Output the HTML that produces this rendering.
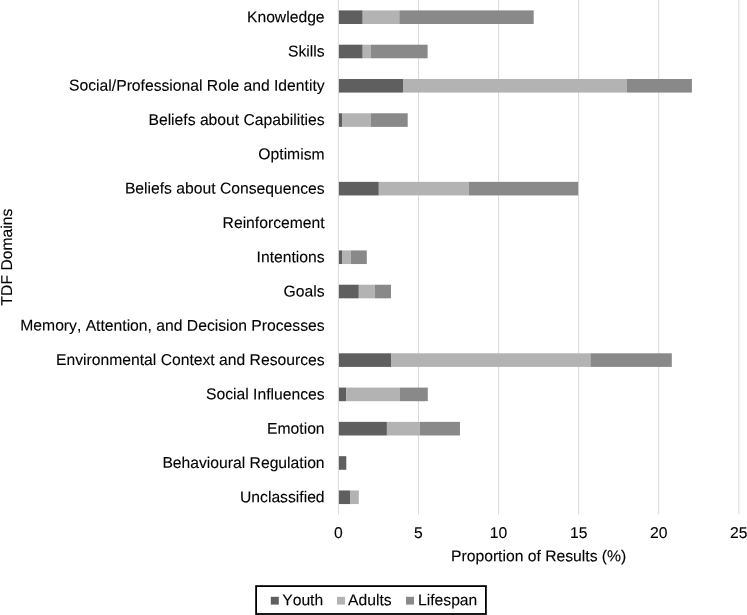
<!DOCTYPE html>
<html><head><meta charset="utf-8"><style>
html,body{margin:0;padding:0;background:#fff;width:747px;height:615px;overflow:hidden}
svg{display:block;will-change:transform}
text{font-family:"Liberation Sans",sans-serif;font-size:15.7px;fill:#000;stroke:#000;stroke-width:0.12px;text-rendering:geometricPrecision;font-kerning:none}
</style></head><body>
<svg width="747" height="615" viewBox="0 0 747 615">
<rect x="417.98" y="0" width="1" height="514.20" fill="#d9d9d9"/>
<rect x="498.06" y="0" width="1" height="514.20" fill="#d9d9d9"/>
<rect x="578.14" y="0" width="1" height="514.20" fill="#d9d9d9"/>
<rect x="658.22" y="0" width="1" height="514.20" fill="#d9d9d9"/>
<rect x="738.30" y="0" width="1" height="514.20" fill="#d9d9d9"/>
<rect x="338.40" y="10.40" width="24.30" height="13.6" fill="#5f5f5f"/>
<rect x="362.70" y="10.40" width="36.60" height="13.6" fill="#b3b3b3"/>
<rect x="399.30" y="10.40" width="134.40" height="13.6" fill="#898989"/>
<rect x="338.40" y="44.69" width="24.30" height="13.6" fill="#5f5f5f"/>
<rect x="362.70" y="44.69" width="8.20" height="13.6" fill="#b3b3b3"/>
<rect x="370.90" y="44.69" width="56.70" height="13.6" fill="#898989"/>
<rect x="338.40" y="78.98" width="64.60" height="13.6" fill="#5f5f5f"/>
<rect x="403.00" y="78.98" width="224.00" height="13.6" fill="#b3b3b3"/>
<rect x="627.00" y="78.98" width="64.90" height="13.6" fill="#898989"/>
<rect x="338.40" y="113.27" width="3.60" height="13.6" fill="#5f5f5f"/>
<rect x="342.00" y="113.27" width="28.90" height="13.6" fill="#b3b3b3"/>
<rect x="370.90" y="113.27" width="36.80" height="13.6" fill="#898989"/>
<rect x="338.40" y="181.85" width="40.40" height="13.6" fill="#5f5f5f"/>
<rect x="378.80" y="181.85" width="89.90" height="13.6" fill="#b3b3b3"/>
<rect x="468.70" y="181.85" width="109.50" height="13.6" fill="#898989"/>
<rect x="338.40" y="250.43" width="3.60" height="13.6" fill="#5f5f5f"/>
<rect x="342.00" y="250.43" width="8.80" height="13.6" fill="#b3b3b3"/>
<rect x="350.80" y="250.43" width="16.00" height="13.6" fill="#898989"/>
<rect x="338.40" y="284.72" width="20.40" height="13.6" fill="#5f5f5f"/>
<rect x="358.80" y="284.72" width="16.10" height="13.6" fill="#b3b3b3"/>
<rect x="374.90" y="284.72" width="16.10" height="13.6" fill="#898989"/>
<rect x="338.40" y="353.30" width="52.60" height="13.6" fill="#5f5f5f"/>
<rect x="391.00" y="353.30" width="199.40" height="13.6" fill="#b3b3b3"/>
<rect x="590.40" y="353.30" width="81.40" height="13.6" fill="#898989"/>
<rect x="338.40" y="387.59" width="7.70" height="13.6" fill="#5f5f5f"/>
<rect x="346.10" y="387.59" width="53.50" height="13.6" fill="#b3b3b3"/>
<rect x="399.60" y="387.59" width="28.20" height="13.6" fill="#898989"/>
<rect x="338.40" y="421.88" width="48.50" height="13.6" fill="#5f5f5f"/>
<rect x="386.90" y="421.88" width="32.90" height="13.6" fill="#b3b3b3"/>
<rect x="419.80" y="421.88" width="40.20" height="13.6" fill="#898989"/>
<rect x="338.40" y="456.17" width="7.90" height="13.6" fill="#5f5f5f"/>
<rect x="338.40" y="490.46" width="11.60" height="13.6" fill="#5f5f5f"/>
<rect x="350.00" y="490.46" width="8.80" height="13.6" fill="#b3b3b3"/>
<rect x="337.90" y="0" width="1" height="514.20" fill="#d9d9d9"/>
<text x="324.60" y="22.25" text-anchor="end" transform="rotate(0.05 324.60 22.25)">Knowledge</text>
<text x="324.60" y="56.54" text-anchor="end" transform="rotate(0.05 324.60 56.54)">Skills</text>
<text x="324.60" y="90.83" text-anchor="end" transform="rotate(0.05 324.60 90.83)">Social/Professional Role and Identity</text>
<text x="324.60" y="125.12" text-anchor="end" transform="rotate(0.05 324.60 125.12)">Beliefs about Capabilities</text>
<text x="324.60" y="159.41" text-anchor="end" transform="rotate(0.05 324.60 159.41)">Optimism</text>
<text x="324.60" y="193.70" text-anchor="end" transform="rotate(0.05 324.60 193.70)">Beliefs about Consequences</text>
<text x="324.60" y="227.99" text-anchor="end" transform="rotate(0.05 324.60 227.99)">Reinforcement</text>
<text x="324.60" y="262.28" text-anchor="end" transform="rotate(0.05 324.60 262.28)">Intentions</text>
<text x="324.60" y="296.57" text-anchor="end" transform="rotate(0.05 324.60 296.57)">Goals</text>
<text x="324.60" y="330.86" text-anchor="end" transform="rotate(0.05 324.60 330.86)">Memory, Attention, and Decision Processes</text>
<text x="324.60" y="365.15" text-anchor="end" transform="rotate(0.05 324.60 365.15)">Environmental Context and Resources</text>
<text x="324.60" y="399.44" text-anchor="end" transform="rotate(0.05 324.60 399.44)">Social Influences</text>
<text x="324.60" y="433.73" text-anchor="end" transform="rotate(0.05 324.60 433.73)">Emotion</text>
<text x="324.60" y="468.02" text-anchor="end" transform="rotate(0.05 324.60 468.02)">Behavioural Regulation</text>
<text x="324.60" y="502.31" text-anchor="end" transform="rotate(0.05 324.60 502.31)">Unclassified</text>
<text x="338.40" y="538.00" text-anchor="middle" transform="rotate(0.05 338.40 538.00)">0</text>
<text x="418.48" y="538.00" text-anchor="middle" transform="rotate(0.05 418.48 538.00)">5</text>
<text x="498.56" y="538.00" text-anchor="middle" transform="rotate(0.05 498.56 538.00)">10</text>
<text x="578.64" y="538.00" text-anchor="middle" transform="rotate(0.05 578.64 538.00)">15</text>
<text x="658.72" y="538.00" text-anchor="middle" transform="rotate(0.05 658.72 538.00)">20</text>
<text x="738.80" y="538.00" text-anchor="middle" transform="rotate(0.05 738.80 538.00)">25</text>
<text x="538.65" y="561.30" text-anchor="middle" transform="rotate(0.05 538.65 561.30)">Proportion of Results (%)</text>
<text transform="translate(11.5,257.10) rotate(-90)" text-anchor="middle">TDF Domains</text>
<rect x="256.1" y="586.1" width="229.8" height="27.9" fill="none" stroke="#000" stroke-width="1.8"/>
<rect x="270.8" y="596.8" width="8" height="7.8" fill="#5f5f5f"/>
<text x="282.20" y="605.30" text-anchor="start" transform="rotate(0.05 282.20 605.30)">Youth</text>
<rect x="337.0" y="596.8" width="8" height="7.8" fill="#b3b3b3"/>
<text x="348.10" y="605.30" text-anchor="start" transform="rotate(0.05 348.10 605.30)">Adults</text>
<rect x="406.0" y="596.8" width="8" height="7.8" fill="#898989"/>
<text x="418.00" y="605.30" text-anchor="start" transform="rotate(0.05 418.00 605.30)">Lifespan</text>
</svg>
</body></html>
